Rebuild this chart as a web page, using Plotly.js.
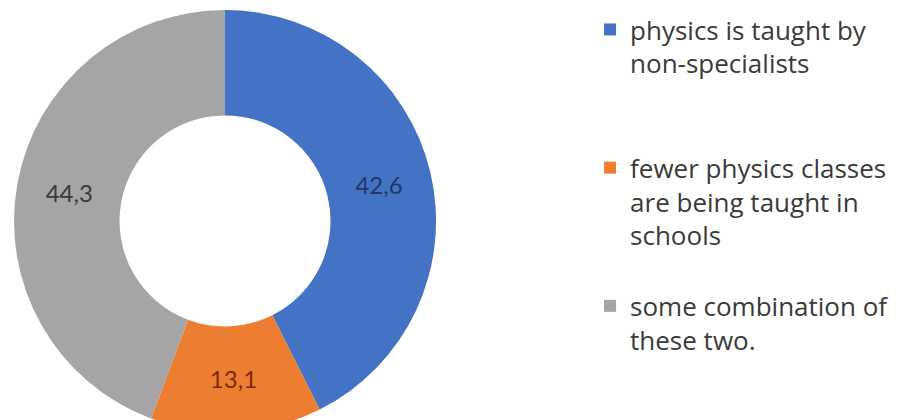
<!DOCTYPE html>
<html>
<head>
<meta charset="utf-8">
<script src="https://cdn.plot.ly/plotly-3.0.1.min.js"></script>
<style>
html, body { margin: 0; padding: 0; overflow: hidden; background: #ffffff; }
#chart { width: 905px; height: 432px; }
</style>
</head>
<body>
<div id="chart"></div>
<script>
// Data
const categories = [
  "physics is taught by<br>non-specialists<br>\u00a0<br>\u00a0",
  "fewer physics classes<br>are being taught in<br>schools<br>\u00a0",
  "some combination of<br>these two."
];
const values = [42.6, 13.1, 44.3];
const sliceColors = ["#4472C4", "#ED7D31", "#A5A5A5"];
const labelColors = ["#1F3864", "#7A2E08", "#3A3A3A"];

const trace = {
  type: "pie",
  labels: categories,
  values: values,
  hole: 0.5,
  sort: false,
  direction: "clockwise",
  rotation: 0,
  marker: { colors: sliceColors, line: { width: 0 } },
  textinfo: "value",
  texttemplate: "%{value:.1f}",
  textposition: "inside",
  insidetextorientation: "horizontal",
  textfont: { family: "Lato, 'Open Sans', sans-serif", size: 24, color: labelColors },
  hoverinfo: "label+value",
  domain: { x: [0.0155, 0.4818], y: [0, 0.977] }
};

const layout = {
  width: 905,
  height: 432,
  margin: { l: 0, r: 0, t: 0, b: 0 },
  paper_bgcolor: "#ffffff",
  separators: ", ",
  showlegend: true,
  legend: {
    x: 0.652, xanchor: "left",
    y: 0.986, yanchor: "top",
    valign: "top",
    font: { family: "'Open Sans', sans-serif", size: 26, color: "#3a3a3a" },
    bgcolor: "rgba(0,0,0,0)",
    borderwidth: 0
  }
};

Plotly.newPlot("chart", [trace], layout, { displayModeBar: false, staticPlot: true });
</script>
</body>
</html>
